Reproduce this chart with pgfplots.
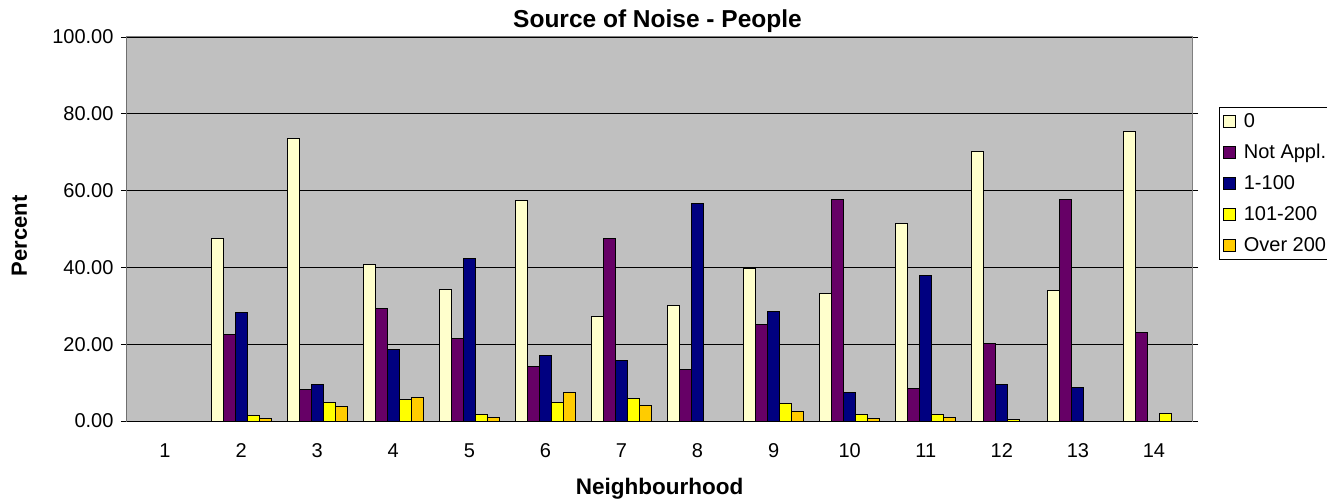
\documentclass[border=0pt]{standalone}
\usepackage{fontspec}
\setmainfont{Liberation Sans}
\usepackage{pgfplots}
\pgfplotsset{compat=1.18}
\definecolor{cCream}{HTML}{FFFFCC}
\definecolor{cPurple}{HTML}{660066}
\definecolor{cNavy}{HTML}{000080}
\definecolor{cYellow}{HTML}{FFFF00}
\definecolor{cOrange}{HTML}{FFCC00}
\definecolor{cBg}{HTML}{C0C0C0}
\definecolor{cBorder}{HTML}{808080}
\begin{document}
\begin{tikzpicture}
\begin{axis}[
  at={(0pt,0pt)}, anchor=south west,
  scale only axis, width=1065pt, height=384pt,
  xmin=0.5, xmax=14.5, ymin=0, ymax=100,
  ybar=0pt, bar width=12pt,
  axis background/.style={fill=cBg},
  axis line style={cBorder, line width=1pt},
  xtick={1,...,14},
  xtick style={draw=none},
  minor xtick={0.5,1.5,...,14.5},
  minor tick length=6pt,
  major tick length=6pt,
  tick align=outside,
  tick style={black, line width=0.8pt},
  ytick={0,20,...,100},
  ymajorgrids,
  grid style={black, line width=0.8pt},
  /pgf/number format/assume math mode=true,
  yticklabel={\pgfmathprintnumber[fixed, fixed zerofill, precision=2]{\tick}},
  ticklabel style={font=\fontsize{20}{24}\selectfont},
  xticklabel style={yshift=-13pt},
  yticklabel style={xshift=-4pt},
  title={Source of Noise - People},
  title style={font=\fontsize{24.5}{28}\selectfont\bfseries, at={(axis description cs:0.5,1)}, anchor=base, yshift=3pt, xshift=-2pt},
  xlabel={Neighbourhood},
  xlabel style={font=\fontsize{22.5}{26}\selectfont\bfseries, at={(axis description cs:0.5,0)}, anchor=base, yshift=-73pt},
  ylabel={Percent},
  ylabel style={font=\fontsize{22}{26}\selectfont\bfseries, at={(axis description cs:0,0.482)}, anchor=base, yshift=100pt},
  legend style={at={(axis description cs:1.0253,0.8177)}, anchor=north west, draw=black, line width=0.8pt, font=\fontsize{20}{24}\selectfont, inner xsep=4pt, inner ysep=4pt, row sep=11.5pt, cells={anchor=west}},
  legend image code/.code={\path[draw=none, fill=none] (0pt,0pt) -- (18pt,0pt); \draw[#1, line width=1pt] (0pt,-6pt) rectangle (12pt,6pt);},
  every axis plot/.append style={draw=black, line width=1pt},
]
\addplot[fill=cCream] coordinates {(1,0) (2,47.5) (3,73.6) (4,40.7) (5,34.2) (6,57.3) (7,27.3) (8,30.2) (9,39.8) (10,33.1) (11,51.4) (12,70.2) (13,34.1) (14,75.3)};
\addplot[fill=cPurple] coordinates {(1,0) (2,22.6) (3,8.3) (4,29.4) (5,21.4) (6,14.1) (7,47.5) (8,13.5) (9,25.0) (10,57.6) (11,8.4) (12,20.2) (13,57.6) (14,23.1)};
\addplot[fill=cNavy] coordinates {(1,0) (2,28.2) (3,9.6) (4,18.6) (5,42.4) (6,17.0) (7,15.7) (8,56.7) (9,28.5) (10,7.4) (11,38.0) (12,9.6) (13,8.7) (14,0)};
\addplot[fill=cYellow] coordinates {(1,0) (2,1.4) (3,4.9) (4,5.7) (5,1.6) (6,4.8) (7,5.8) (8,0) (9,4.5) (10,1.7) (11,1.6) (12,0.4) (13,0) (14,1.9)};
\addplot[fill=cOrange] coordinates {(1,0) (2,0.6) (3,3.9) (4,6.2) (5,0.9) (6,7.5) (7,4.1) (8,0) (9,2.6) (10,0.7) (11,1.0) (12,0) (13,0) (14,0)};
\legend{0, Not Appl., 1-100, 101-200, Over 200}
\draw[black, line width=1pt] (rel axis cs:0,1) -- (rel axis cs:0,0) -- (rel axis cs:1,0);
\end{axis}
\pgfresetboundingbox
\path (-127pt,-82pt) rectangle (1200pt,421pt);
\end{tikzpicture}
\end{document}
